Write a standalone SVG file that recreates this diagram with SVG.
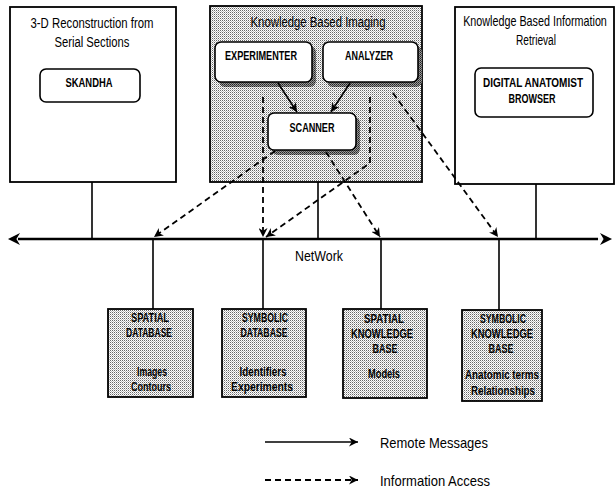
<svg xmlns="http://www.w3.org/2000/svg" width="616" height="500" viewBox="0 0 616 500">
<style>
text{font-family:"Liberation Sans",Arial,sans-serif;fill:#000;text-anchor:middle}
.t{font-size:14px}
.b{font-size:12px;font-weight:bold}
.s{font-size:12.5px;font-weight:bold}
.l{font-size:15px;text-anchor:start}
.box{stroke:#000;stroke-width:1.8}
.in{fill:#fff;stroke:#000;stroke-width:1.6}
.ln{stroke:#000;stroke-width:1.6;fill:none}
.da{stroke:#000;stroke-width:1.8;fill:none;stroke-dasharray:6 4}
</style>
<defs>
<pattern id="stip" width="2" height="2" patternUnits="userSpaceOnUse"><rect width="2" height="2" fill="#fff"/><rect width="1" height="1" fill="#666"/><rect x="1" y="1" width="1" height="1" fill="#bbb"/></pattern>
<pattern id="dark" width="2" height="2" patternUnits="userSpaceOnUse"><rect width="2" height="2" fill="#999"/><rect width="1" height="1" fill="#222"/><rect x="1" y="1" width="1" height="1" fill="#444"/></pattern>
<marker id="ah" viewBox="0 0 10 10" refX="10" refY="5" markerWidth="9" markerHeight="9" markerUnits="userSpaceOnUse" orient="auto"><path d="M0,0 L10,5 L0,10 L3,5 Z" fill="#000"/></marker>
<marker id="big" viewBox="0 0 10 10" refX="10" refY="5" markerWidth="14" markerHeight="12" markerUnits="userSpaceOnUse" orient="auto-start-reverse"><path d="M0,0 L10,5 L0,10 L3,5 Z" fill="#000"/></marker>
</defs>

<g id="reconstruction">
<rect class="box" x="10" y="7" width="166" height="175" fill="#fff"/>
<text class="t" x="92" y="28" textLength="123" lengthAdjust="spacingAndGlyphs">3-D Reconstruction from</text>
<text class="t" x="92" y="47" textLength="75" lengthAdjust="spacingAndGlyphs">Serial Sections</text>
</g>
<g id="skandha">
<rect class="in" x="40" y="69" width="100" height="33" rx="6"/>
<text class="b" x="89" y="87" textLength="47" lengthAdjust="spacingAndGlyphs">SKANDHA</text>
</g>

<g id="imaging">
<rect class="box" x="210" y="6" width="212" height="176" fill="url(#stip)"/>
<text class="t" x="318" y="27" textLength="135" lengthAdjust="spacingAndGlyphs">Knowledge Based Imaging</text>
</g>
<g id="experimenter">
<rect x="219" y="46" width="97" height="41" rx="6" fill="url(#dark)"/>
<rect class="in" x="215" y="42" width="97" height="40" rx="6"/>
<text class="b" x="261" y="60" textLength="72" lengthAdjust="spacingAndGlyphs">EXPERIMENTER</text>
</g>
<g id="analyzer">
<rect x="327" y="46" width="95" height="41" rx="6" fill="url(#dark)"/>
<rect class="in" x="323" y="42" width="95" height="40" rx="6"/>
<text class="b" x="369" y="60" textLength="48" lengthAdjust="spacingAndGlyphs">ANALYZER</text>
</g>
<g id="scanner">
<rect x="272" y="117" width="88" height="38" rx="6" fill="url(#dark)"/>
<rect class="in" x="268" y="113" width="88" height="37" rx="6"/>
<text class="b" x="312" y="132" textLength="45" lengthAdjust="spacingAndGlyphs">SCANNER</text>
</g>

<g id="retrieval">
<rect class="box" x="455" y="7" width="159" height="177" fill="#fff"/>
<text class="t" transform="translate(535,26) scale(0.77,1)" x="0" y="0">Knowledge Based Information</text>
<text class="t" x="536" y="45" textLength="40" lengthAdjust="spacingAndGlyphs">Retrieval</text>
</g>
<g id="browser">
<rect class="in" x="475" y="68" width="118" height="49" rx="6"/>
<text class="b" x="533" y="87" textLength="100" lengthAdjust="spacingAndGlyphs">DIGITAL ANATOMIST</text>
<text class="b" x="532" y="103" textLength="47" lengthAdjust="spacingAndGlyphs">BROWSER</text>
</g>

<g id="spatial-db">
<rect class="box" x="108" y="309" width="85" height="88" fill="url(#stip)"/>
<text class="s" x="150" y="322" textLength="38" lengthAdjust="spacingAndGlyphs">SPATIAL</text>
<text class="s" x="149" y="337" textLength="46" lengthAdjust="spacingAndGlyphs">DATABASE</text>
<text class="s" x="152" y="376" textLength="30" lengthAdjust="spacingAndGlyphs">Images</text>
<text class="s" x="151" y="391" textLength="40" lengthAdjust="spacingAndGlyphs">Contours</text>
</g>
<g id="symbolic-db">
<rect class="box" x="222" y="309" width="84" height="88" fill="url(#stip)"/>
<text class="s" x="265" y="322" textLength="46" lengthAdjust="spacingAndGlyphs">SYMBOLIC</text>
<text class="s" x="264" y="337" textLength="47" lengthAdjust="spacingAndGlyphs">DATABASE</text>
<text class="s" x="263" y="376" textLength="47" lengthAdjust="spacingAndGlyphs">Identifiers</text>
<text class="s" x="262" y="391" textLength="62" lengthAdjust="spacingAndGlyphs">Experiments</text>
</g>
<g id="spatial-kb">
<rect class="box" x="343" y="309" width="84" height="89" fill="url(#stip)"/>
<text class="s" x="384" y="323" textLength="40" lengthAdjust="spacingAndGlyphs">SPATIAL</text>
<text class="s" x="382" y="338" textLength="62" lengthAdjust="spacingAndGlyphs">KNOWLEDGE</text>
<text class="s" x="385" y="353" textLength="25" lengthAdjust="spacingAndGlyphs">BASE</text>
<text class="s" x="384" y="378" textLength="32" lengthAdjust="spacingAndGlyphs">Models</text>
</g>
<g id="symbolic-kb">
<rect class="box" x="462" y="310" width="80" height="91" fill="url(#stip)"/>
<text class="s" x="503" y="323" textLength="46" lengthAdjust="spacingAndGlyphs">SYMBOLIC</text>
<text class="s" x="502" y="338" textLength="62" lengthAdjust="spacingAndGlyphs">KNOWLEDGE</text>
<text class="s" x="501" y="353" textLength="25" lengthAdjust="spacingAndGlyphs">BASE</text>
<text class="s" x="502" y="379" textLength="74" lengthAdjust="spacingAndGlyphs">Anatomic terms</text>
<text class="s" x="503" y="395" textLength="64" lengthAdjust="spacingAndGlyphs">Relationships</text>
</g>

<g id="network">
<line x1="18" y1="239" x2="598" y2="239" stroke="#000" stroke-width="2.6"/>
<line x1="8" y1="239" x2="612" y2="239" stroke="#000" stroke-width="0.1" marker-start="url(#big)" marker-end="url(#big)"/>
<text x="319" y="261" style="font-size:15px" textLength="48" lengthAdjust="spacingAndGlyphs">NetWork</text>
</g>

<g id="connectors">
<line class="ln" x1="92" y1="182" x2="92" y2="239"/>
<line class="ln" x1="318" y1="182" x2="318" y2="239"/>
<line class="ln" x1="536" y1="184" x2="536" y2="239"/>
<line class="ln" x1="153" y1="239" x2="153" y2="309"/>
<line class="ln" x1="263" y1="239" x2="263" y2="309"/>
<line class="ln" x1="381" y1="239" x2="381" y2="309"/>
<line class="ln" x1="499" y1="239" x2="499" y2="310"/>
<line class="ln" x1="278" y1="83" x2="297" y2="112" marker-end="url(#ah)"/>
<line class="ln" x1="350" y1="83" x2="331" y2="112" marker-end="url(#ah)"/>
<line class="da" x1="275" y1="151" x2="154" y2="237" marker-end="url(#ah)"/>
<line class="da" x1="263" y1="97" x2="263" y2="237" marker-end="url(#ah)"/>
<polyline class="da" points="370,97 370,163 266,237" marker-end="url(#ah)"/>
<line class="da" x1="326" y1="152" x2="380" y2="237" marker-end="url(#ah)"/>
<line class="da" x1="393" y1="93" x2="498" y2="237" marker-end="url(#ah)"/>
</g>

<g id="legend">
<line class="ln" x1="265" y1="442" x2="358" y2="442" marker-end="url(#ah)"/>
<text class="l" x="380" y="448" textLength="108" lengthAdjust="spacingAndGlyphs">Remote Messages</text>
<line class="da" x1="265" y1="480" x2="358" y2="480" marker-end="url(#ah)"/>
<text class="l" x="380" y="486" textLength="110" lengthAdjust="spacingAndGlyphs">Information Access</text>
</g>
</svg>
